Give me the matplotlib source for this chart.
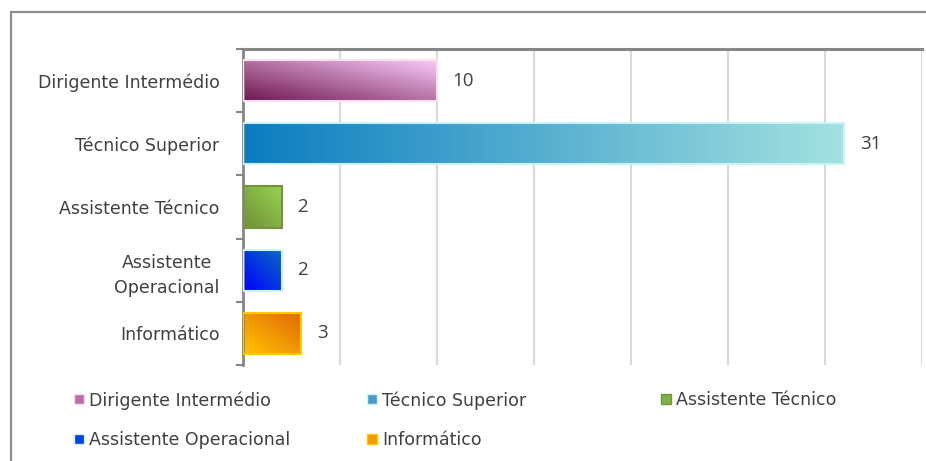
import numpy as np
import matplotlib.pyplot as plt
from matplotlib.colors import LinearSegmentedColormap
from matplotlib.lines import Line2D
from matplotlib.patches import Rectangle

categories = ["Dirigente Intermédio", "Técnico Superior", "Assistente Técnico",
              "Assistente\nOperacional", "Informático"]
legend_labels = ["Dirigente Intermédio", "Técnico Superior", "Assistente Técnico",
                 "Assistente Operacional", "Informático"]
values = [10, 31, 2, 2, 3]

# gradient colours: dark end, light end, edge, direction
grad_dark = ["#6e1650", "#0a7cc0", "#6f8f38", "#0000ff", "#ffc400"]
grad_light = ["#fbcdfb", "#a4e2e0", "#96d250", "#0a6cc0", "#e26808"]
edge_cols = ["#fde0ec", "#c8f4f8", "#76923c", "#c8f4fc", "#ffc800"]
grad_dir = ["diag", "horiz", "diag", "diag", "diag"]
legend_mid = ["#b86ea8", "#4a9cc8", "#82b048", "#0040e0", "#f29a04"]

text_col = "#404040"
grid_col = "#d9d9d9"
spine_col = "#868686"

fig = plt.figure(figsize=(9.26, 4.61), dpi=100)
fig.patches.append(Rectangle((11 / 926, -0.1), 1.2, 1 - 12 / 461 + 0.1,
                             transform=fig.transFigure, fill=False,
                             edgecolor="#8c8c8c", linewidth=1.6))

ax = fig.add_axes([243 / 926, 1 - 365 / 461, 679 / 926, 316 / 461])
y = np.arange(len(categories))
bars = ax.barh(y, values, height=0.65, facecolor="none", zorder=3)

for i, b in enumerate(bars):
    x0, y0, w, h = b.get_x(), b.get_y(), b.get_width(), b.get_height()
    cmap = LinearSegmentedColormap.from_list("g%d" % i, [grad_dark[i], grad_light[i]])
    if grad_dir[i] == "horiz":
        g = np.tile(np.linspace(0, 1, 256), (8, 1))
    else:
        xx, yy = np.meshgrid(np.linspace(0, 1, 128), np.linspace(0, 1, 64))
        g = (xx + (1 - yy)) / 2  # dark at bottom-left, light at top-right
    im = ax.imshow(g, cmap=cmap, extent=[x0, x0 + w, y0 + h, y0], aspect="auto",
                   origin="upper", zorder=2, interpolation="bilinear")
    im.set_clip_path(b)
    b.set_edgecolor(edge_cols[i])
    b.set_linewidth(1.5)
    ax.text(x0 + w + 0.8, y[i], str(values[i]), va="center", ha="left",
            fontsize=13.5, color=text_col, family="Open Sans")

ax.set_xlim(0, 35)
ax.set_ylim(len(categories) - 0.5, -0.5)
ax.set_xticks(np.arange(0, 36, 5))
ax.xaxis.grid(True, color=grid_col, linewidth=1.5, zorder=0)
ax.set_axisbelow(True)
ax.tick_params(axis="x", length=0, labelbottom=False, labeltop=False)

ax.set_yticks(y)
ax.set_yticklabels(categories, fontsize=12.5, color=text_col, family="DejaVu Sans",
                   ha="right", multialignment="center", linespacing=1.5)
ax.set_yticks(np.arange(-0.5, len(categories)), minor=True)
ax.tick_params(axis="y", which="major", length=0, pad=17)
ax.tick_params(axis="y", which="minor", length=5, width=1.5, color=spine_col,
               direction="out")

for s in ["right", "bottom"]:
    ax.spines[s].set_visible(False)
ax.spines["top"].set_color(spine_col)
ax.spines["top"].set_linewidth(2.2)
ax.spines["left"].set_color(spine_col)
ax.spines["left"].set_linewidth(2.0)

# legend: three columns placed like the original chart
col_x = [74 / 926, 367 / 926, 661 / 926]
for c in range(3):
    handles = []
    labels = []
    for i in (c, c + 3):
        if i < len(legend_labels):
            handles.append(Line2D([], [], linestyle="none", marker="s", markersize=7.5,
                                  markerfacecolor=legend_mid[i],
                                  markeredgecolor=edge_cols[i], markeredgewidth=1))
            labels.append(legend_labels[i])
    fig.legend(handles, labels, loc="upper left", bbox_to_anchor=(col_x[c], 1 - 391 / 461),
               frameon=False, labelcolor=text_col, handlelength=0.55,
               handletextpad=0.3, borderpad=0, borderaxespad=0, labelspacing=1.25,
               prop={"family": "DejaVu Sans", "size": 12.5})

fig.savefig("out.png", dpi=100)
